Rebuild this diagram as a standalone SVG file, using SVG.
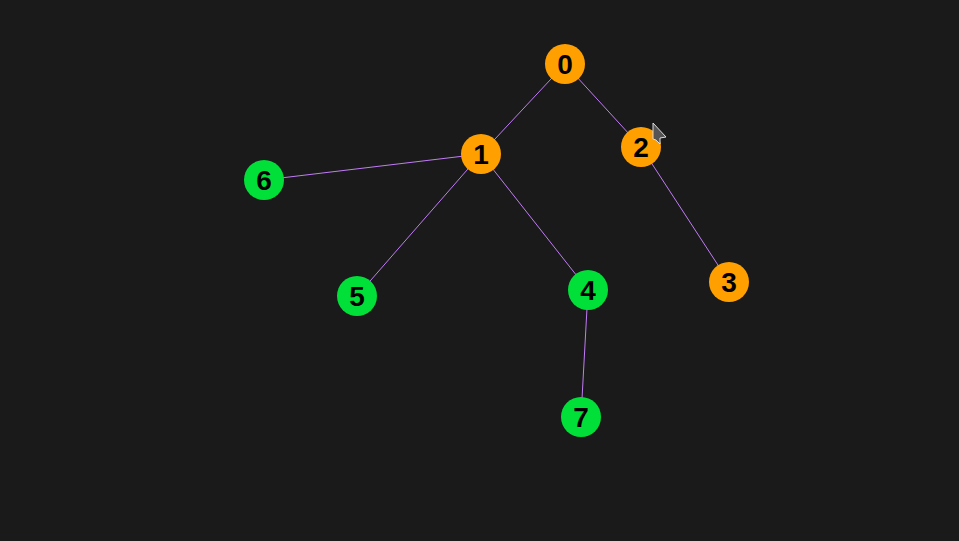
<svg xmlns="http://www.w3.org/2000/svg" width="959" height="541" viewBox="0 0 959 541">
<style>
.edge{stroke:#c07cf5;stroke-width:1;fill:none}
.orange{fill:#ffa000}
.green{fill:#00e038}
.lbl{font-family:"Liberation Sans",Arial,sans-serif;font-weight:bold;font-size:28px;fill:#000;text-anchor:middle;dominant-baseline:central}
</style>
<rect width="959" height="541" fill="#1a1a1a"/>
<g id="connectors">
<line class="edge" x1="565" y1="64" x2="481" y2="154"/>
<line class="edge" x1="565" y1="64" x2="641" y2="147"/>
<line class="edge" x1="481" y1="154" x2="264" y2="180"/>
<line class="edge" x1="481" y1="154" x2="357" y2="296"/>
<line class="edge" x1="481" y1="154" x2="588" y2="290"/>
<line class="edge" x1="641" y1="147" x2="729" y2="282"/>
<line class="edge" x1="588" y1="290" x2="581" y2="417"/>
</g>
<g id="node0"><circle class="orange" cx="565" cy="64" r="20"/><text class="lbl" x="565" y="64">0</text></g>
<g id="node1"><circle class="orange" cx="481" cy="154" r="20"/><text class="lbl" x="481" y="154">1</text></g>
<g id="node2"><circle class="orange" cx="641" cy="147" r="20"/><text class="lbl" x="641" y="147">2</text></g>
<g id="node3"><circle class="orange" cx="729" cy="282" r="20"/><text class="lbl" x="729" y="282">3</text></g>
<g id="node4"><circle class="green" cx="588" cy="290" r="20"/><text class="lbl" x="588" y="290">4</text></g>
<g id="node5"><circle class="green" cx="357" cy="296" r="20"/><text class="lbl" x="357" y="296">5</text></g>
<g id="node6"><circle class="green" cx="264" cy="180" r="20"/><text class="lbl" x="264" y="180">6</text></g>
<g id="node7"><circle class="green" cx="581" cy="417" r="20"/><text class="lbl" x="581" y="417">7</text></g>
<polygon points="653,123 666,137 660,138 660,144 656,140 653,139" fill="#555" stroke="#ddd" stroke-width="1"/>
</svg>
